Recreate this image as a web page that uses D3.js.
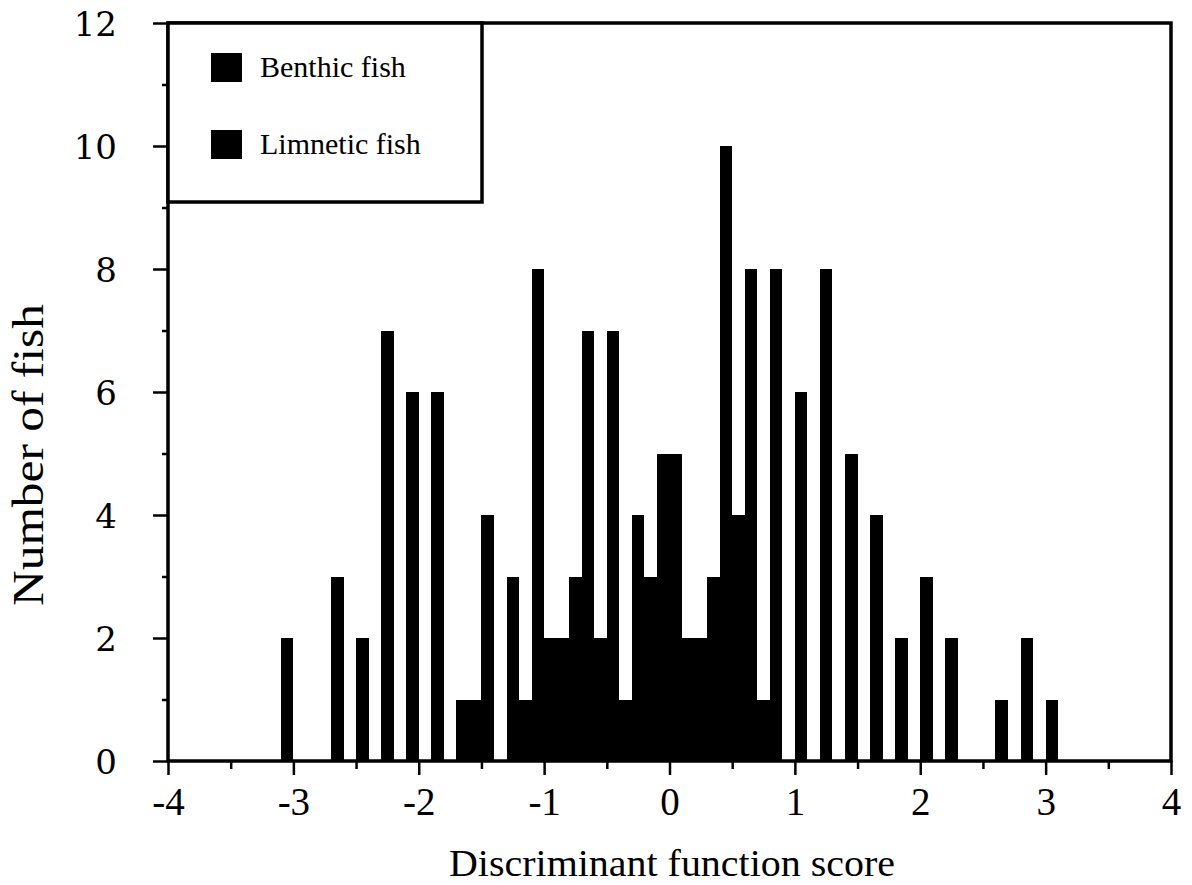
<!DOCTYPE html>
<html>
<head>
<meta charset="utf-8">
<script src="https://cdn.jsdelivr.net/npm/d3@7"></script>
<style>
  body { margin: 0; background: #fff; }
  text { fill: #000; }
</style>
</head>
<body>
<div id="chart"></div>
<script>
// Histogram bins (left edge of each 0.1-wide bin) and fish counts
const binStarts = [
  -3.1, -3.0, -2.9, -2.8, -2.7, -2.6, -2.5, -2.4, -2.3, -2.2,
  -2.1, -2.0, -1.9, -1.8, -1.7, -1.6, -1.5, -1.4, -1.3, -1.2,
  -1.1, -1.0, -0.9, -0.8, -0.7, -0.6, -0.5, -0.4, -0.3, -0.2,
  -0.1, 0.0, 0.1, 0.2, 0.3, 0.4, 0.5, 0.6, 0.7, 0.8,
  0.9, 1.0, 1.1, 1.2, 1.3, 1.4, 1.5, 1.6, 1.7, 1.8,
  1.9, 2.0, 2.1, 2.2, 2.3, 2.4, 2.5, 2.6, 2.7, 2.8,
  2.9, 3.0
];
const counts = [
  2, 0, 0, 0, 3, 0, 2, 0, 7, 0,
  6, 0, 6, 0, 1, 1, 4, 0, 3, 1,
  8, 2, 2, 3, 7, 2, 7, 1, 4, 3,
  5, 5, 2, 2, 3, 10, 4, 8, 1, 8,
  0, 6, 0, 8, 0, 5, 0, 4, 0, 2,
  0, 3, 0, 2, 0, 0, 0, 1, 0, 2,
  0, 1
];
const binWidth = 0.1;

const seriesNames = ["Benthic fish", "Limnetic fish"];
const seriesColors = ["#000", "#000"];

const xTicks = [-4, -3, -2, -1, 0, 1, 2, 3, 4];
const xMinorTicks = [-3.5, -2.5, -1.5, -0.5, 0.5, 1.5, 2.5, 3.5];
const yTicks = [0, 2, 4, 6, 8, 10, 12];
const yMinorTicks = [1, 3, 5, 7, 9, 11];

const width = 1192, height = 885;
const x = d3.scaleLinear().domain([-4, 4]).range([168, 1171]);
const y = d3.scaleLinear().domain([0, 12]).range([761, 23]);

const svg = d3.select("#chart").append("svg")
    .attr("width", width)
    .attr("height", height);

// Bars
const bins = binStarts.map((s, i) => ({ start: s, count: counts[i] }))
    .filter(d => d.count > 0);

svg.append("g")
    .selectAll("rect")
    .data(bins)
    .join("rect")
    .attr("x", d => x(d.start))
    .attr("width", d => x(d.start + binWidth) - x(d.start))
    .attr("y", d => y(d.count))
    .attr("height", d => y(0) - y(d.count))
    .attr("fill", "#000")
    .attr("shape-rendering", "crispEdges");

// Axes
const xAxis = svg.append("g")
    .attr("transform", `translate(0,${y(0)})`)
    .call(d3.axisBottom(x).tickValues(xTicks).tickSize(14).tickPadding(10)
        .tickFormat(d => String(d)));
const xMinor = svg.append("g")
    .attr("transform", `translate(0,${y(0)})`)
    .call(d3.axisBottom(x).tickValues(xMinorTicks).tickSize(8).tickFormat(""));

const yAxis = svg.append("g")
    .attr("transform", `translate(${x(-4)},0)`)
    .call(d3.axisLeft(y).tickValues(yTicks).tickSize(15).tickPadding(36)
        .tickFormat(d => String(d)));
const yMinor = svg.append("g")
    .attr("transform", `translate(${x(-4)},0)`)
    .call(d3.axisLeft(y).tickValues(yMinorTicks).tickSize(6).tickFormat(""));

[xAxis, xMinor, yAxis, yMinor].forEach(g => {
    g.select(".domain").remove();
    g.selectAll(".tick line").attr("stroke", "#000").attr("stroke-width", 2.5);
});

xAxis.selectAll(".tick text")
    .attr("font-family", "'Liberation Serif', 'Times New Roman', serif")
    .attr("font-size", 39)
    .attr("dy", null)
    .attr("y", 54);

yAxis.selectAll(".tick text")
    .attr("font-family", "'DejaVu Serif', serif")
    .attr("font-size", 34)
    .attr("dy", "0.36em");

// Frame
svg.append("rect")
    .attr("x", x(-4))
    .attr("y", y(12))
    .attr("width", x(4) - x(-4))
    .attr("height", y(0) - y(12))
    .attr("fill", "none")
    .attr("stroke", "#000")
    .attr("stroke-width", 3.5);

// Legend
const legend = svg.append("g");
legend.append("rect")
    .attr("x", x(-4))
    .attr("y", y(12))
    .attr("width", 314)
    .attr("height", 179)
    .attr("fill", "#fff")
    .attr("stroke", "#000")
    .attr("stroke-width", 3.5);

const items = legend.selectAll(".item")
    .data(seriesNames)
    .join("g")
    .attr("class", "item")
    .attr("transform", (d, i) => `translate(211,${53 + i * 77})`);

items.append("rect")
    .attr("width", 31)
    .attr("height", 29)
    .attr("fill", (d, i) => seriesColors[i]);

items.append("text")
    .attr("x", 49)
    .attr("y", 24)
    .attr("font-family", "'Liberation Serif', 'Times New Roman', serif")
    .attr("font-size", 30)
    .text(d => d);

// Axis titles
svg.append("text")
    .attr("x", 672)
    .attr("y", 876)
    .attr("text-anchor", "middle")
    .attr("font-family", "'Liberation Serif', 'Times New Roman', serif")
    .attr("font-size", 38)
    .attr("textLength", 446)
    .attr("lengthAdjust", "spacingAndGlyphs")
    .text("Discriminant function score");

svg.append("text")
    .attr("transform", "translate(43,455) rotate(-90)")
    .attr("text-anchor", "middle")
    .attr("font-family", "'Liberation Serif', 'Times New Roman', serif")
    .attr("font-size", 44)
    .attr("textLength", 302)
    .attr("lengthAdjust", "spacingAndGlyphs")
    .text("Number of fish");
</script>
</body>
</html>
